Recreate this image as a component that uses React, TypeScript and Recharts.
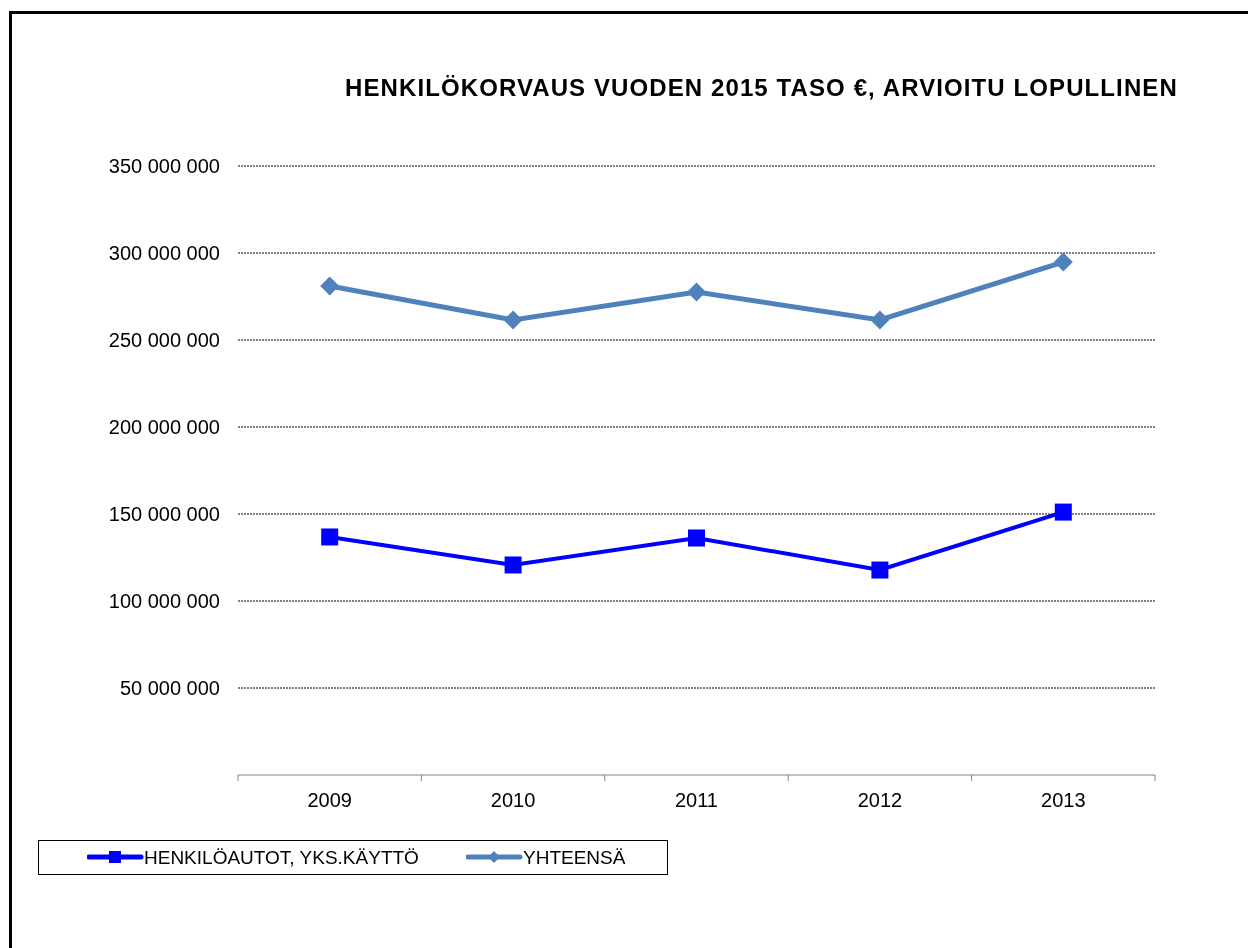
import React from 'react';
import { LineChart, Line, XAxis, YAxis, CartesianGrid } from 'recharts';

const years = ['2009', '2010', '2011', '2012', '2013'];
const henkiloautot = [136800000, 120700000, 136200000, 117800000, 151100000];
const yhteensa = [281000000, 261500000, 277600000, 261500000, 294800000];
const yTicks = [50000000, 100000000, 150000000, 200000000, 250000000, 300000000, 350000000];

const BLUE = '#0000FF';
const STEEL = '#4F81BD';
const AXIS_GREY = '#868686';
const FONT = '"Liberation Sans", Arial, sans-serif';
const TICK_SIZE = 6;
const TICK_MARGIN = 12;

const data = years.map((year, i) => ({
  year,
  henkiloautot: henkiloautot[i],
  yhteensa: yhteensa[i],
}));

const fmt = (n: number) => String(n).replace(/\B(?=(\d{3})+(?!\d))/g, ' ');

const SquareDot = (props: any) => {
  const { cx, cy, index } = props;
  return <rect key={`sq-${index}`} x={cx - 8.5} y={cy - 8.5} width={17} height={17} fill={BLUE} />;
};

const DiamondDot = (props: any) => {
  const { cx, cy, index } = props;
  const r = 9.5;
  return (
    <polygon
      key={`dm-${index}`}
      points={`${cx},${cy - r} ${cx + r},${cy} ${cx},${cy + r} ${cx - r},${cy}`}
      fill={STEEL}
    />
  );
};

// year label in the middle of the band, tick marks on the band edges (Excel style)
const YearTick = (props: any) => {
  const { x, y, payload, index, visibleTicksCount } = props;
  const half = payload?.offset ?? 0;
  const axisY = y - TICK_SIZE - TICK_MARGIN;
  const isLast = index === visibleTicksCount - 1;
  return (
    <g>
      <line x1={x - half} x2={x - half} y1={axisY} y2={axisY + TICK_SIZE} stroke={AXIS_GREY} />
      {isLast && <line x1={x + half} x2={x + half} y1={axisY} y2={axisY + TICK_SIZE} stroke={AXIS_GREY} />}
      <text x={x} y={y} dy="0.71em" textAnchor="middle" fill="#000" fontSize={20} fontFamily={FONT}>
        {payload.value}
      </text>
    </g>
  );
};

export default function App() {
  return (
    <div style={{ position: 'relative', width: 1232, height: 930, fontFamily: FONT }}>
      {/* outer frame, runs off the right and bottom edge */}
      <div
        style={{
          position: 'fixed',
          left: 9,
          top: 11,
          width: 1400,
          height: 1100,
          border: '3px solid #000',
          pointerEvents: 'none',
        }}
      />

      <div
        style={{
          position: 'absolute',
          left: 337,
          top: 68,
          whiteSpace: 'nowrap',
          fontWeight: 'bold',
          fontSize: 24,
          letterSpacing: 1.1,
          lineHeight: '24px',
          color: '#000',
        }}
      >
        HENKILÖKORVAUS VUODEN 2015 TASO €, ARVIOITU LOPULLINEN
      </div>

      <LineChart
        width={1232}
        height={930}
        data={data}
        margin={{ top: 158, right: 85, left: 8, bottom: 123 }}
      >
        <CartesianGrid vertical={false} horizontalValues={yTicks} stroke="#000" strokeDasharray="2 1" />
        <XAxis
          dataKey="year"
          scale="band"
          height={40}
          interval={0}
          axisLine={{ stroke: AXIS_GREY, strokeWidth: 1 }}
          tickLine={false}
          tickSize={TICK_SIZE}
          tickMargin={TICK_MARGIN}
          tick={YearTick}
        />
        <YAxis
          width={222}
          domain={[0, 350000000]}
          ticks={yTicks}
          axisLine={false}
          tickLine={false}
          tickMargin={12}
          tickFormatter={fmt}
          tick={{ fill: '#000', fontSize: 20, fontFamily: FONT }}
        />
        <Line
          dataKey="henkiloautot"
          stroke={BLUE}
          strokeWidth={4}
          dot={SquareDot}
          activeDot={false}
          isAnimationActive={false}
        />
        <Line
          dataKey="yhteensa"
          stroke={STEEL}
          strokeWidth={5}
          dot={DiamondDot}
          activeDot={false}
          isAnimationActive={false}
        />
      </LineChart>

      {/* legend */}
      <div
        style={{
          position: 'absolute',
          left: 30,
          top: 832,
          width: 630,
          height: 35,
          border: '1px solid #000',
          boxSizing: 'border-box',
          fontSize: 19,
          color: '#000',
        }}
      >
        <svg width={60} height={20} style={{ position: 'absolute', left: 48, top: 6 }}>
          <line x1={2} y1={10} x2={54} y2={10} stroke={BLUE} strokeWidth={5} strokeLinecap="round" />
          <rect x={22} y={4} width={12} height={12} fill={BLUE} />
        </svg>
        <span style={{ position: 'absolute', left: 105, top: 6, lineHeight: '22px', whiteSpace: 'nowrap' }}>
          HENKILÖAUTOT, YKS.KÄYTTÖ
        </span>
        <svg width={60} height={20} style={{ position: 'absolute', left: 427, top: 6 }}>
          <line x1={2} y1={10} x2={54} y2={10} stroke={STEEL} strokeWidth={5} strokeLinecap="round" />
          <polygon points="28,4 34,10 28,16 22,10" fill={STEEL} />
        </svg>
        <span style={{ position: 'absolute', left: 484, top: 6, lineHeight: '22px', whiteSpace: 'nowrap' }}>
          YHTEENSÄ
        </span>
      </div>
    </div>
  );
}
